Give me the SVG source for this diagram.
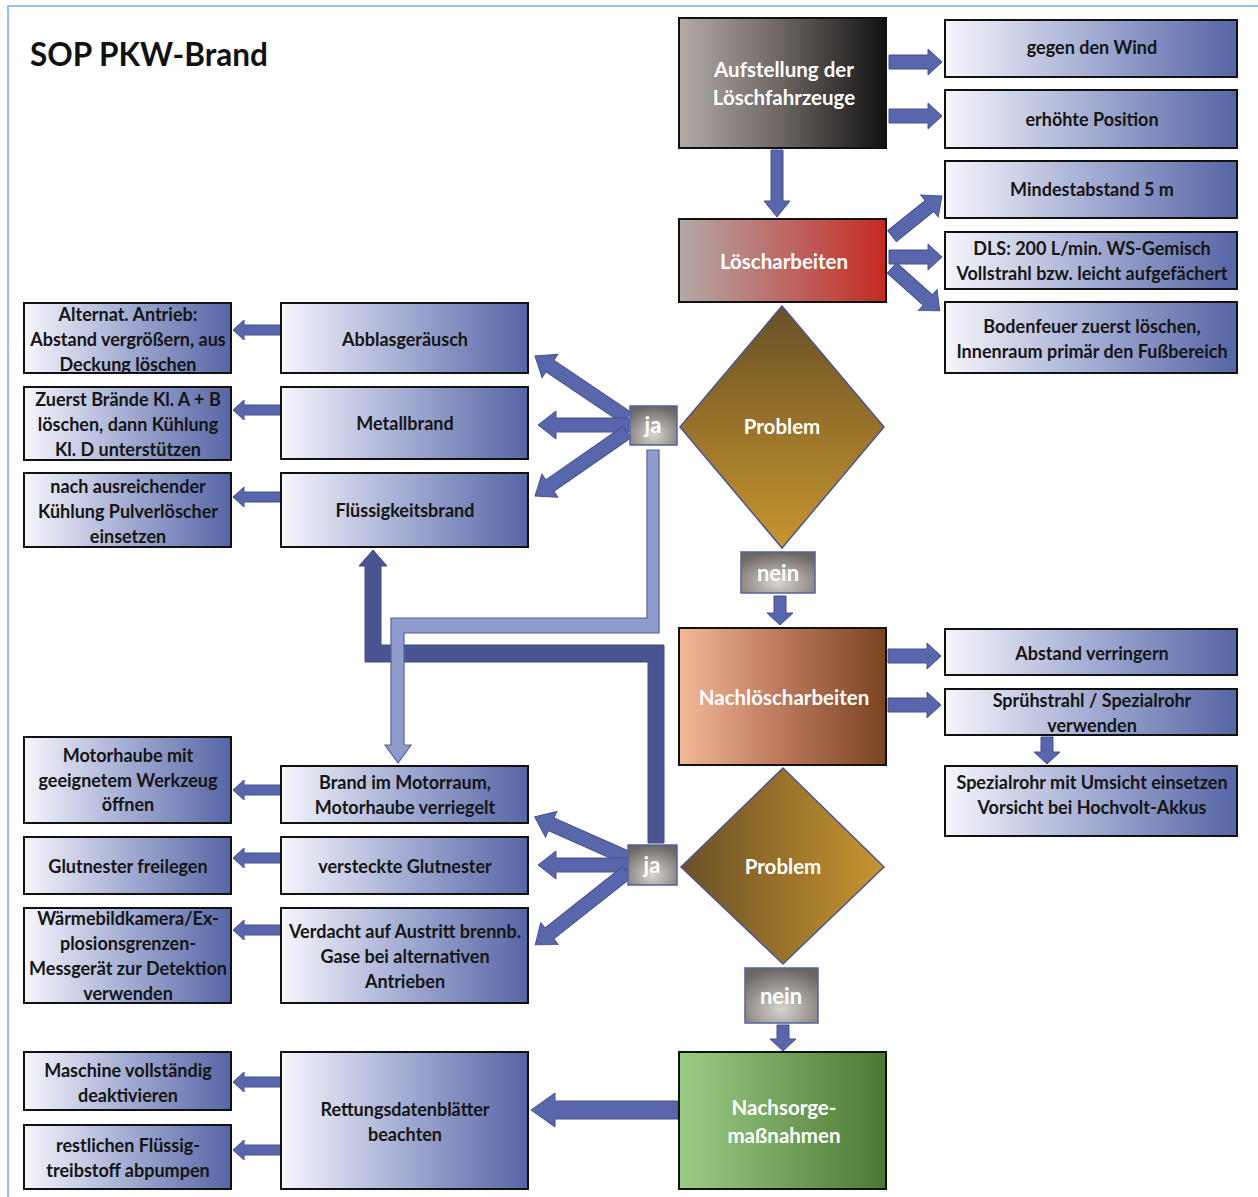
<svg xmlns="http://www.w3.org/2000/svg" xmlns:xlink="http://www.w3.org/1999/xlink" width="1258" height="1197" viewBox="0 0 1258 1197">
<style>
text{font-family:Lato,"Liberation Sans",sans-serif;font-weight:bold;text-anchor:middle}
.t{font-size:18px;fill:#151515}
.w{font-size:20.5px;fill:#ffffff}
.jn{font-size:22px;fill:#ffffff}
.box{fill:url(#gBox);stroke:#111;stroke-width:2}
.main{stroke:#111;stroke-width:2}
.arr{fill:#5867ab;stroke:#46518c;stroke-width:1}
.jabox{fill:url(#gJa);stroke:#5561a0;stroke-width:1.5}
.dia{stroke:#4a5592;stroke-width:1.5}
</style>
<defs>
<linearGradient id="gBox" x1="0" y1="0" x2="1" y2="0"><stop offset="0" stop-color="#f6f6fc"/><stop offset="0.5" stop-color="#a3acd3"/><stop offset="1" stop-color="#5665a5"/></linearGradient>
<linearGradient id="gAuf" x1="0" y1="0" x2="1" y2="0"><stop offset="0" stop-color="#b3aba6"/><stop offset="0.5" stop-color="#6b6461"/><stop offset="1" stop-color="#121111"/></linearGradient>
<linearGradient id="gLosch" x1="0" y1="0" x2="1" y2="0"><stop offset="0" stop-color="#b2a9a8"/><stop offset="0.5" stop-color="#bd6a66"/><stop offset="1" stop-color="#c42a22"/></linearGradient>
<linearGradient id="gNach" x1="0" y1="0" x2="1" y2="0"><stop offset="0" stop-color="#f3b997"/><stop offset="0.5" stop-color="#b9785a"/><stop offset="1" stop-color="#7a4421"/></linearGradient>
<linearGradient id="gSorge" x1="0" y1="0" x2="1" y2="0"><stop offset="0" stop-color="#9ccd86"/><stop offset="1" stop-color="#4c7833"/></linearGradient>
<linearGradient id="gDia1" x1="0" y1="0" x2="0" y2="1"><stop offset="0" stop-color="#6a5027"/><stop offset="1" stop-color="#c8952f"/></linearGradient>
<linearGradient id="gDia2" x1="0" y1="0" x2="1" y2="0"><stop offset="0" stop-color="#6a5027"/><stop offset="1" stop-color="#c8952f"/></linearGradient>
<radialGradient id="gJa" cx="0.5" cy="0.75" r="0.75"><stop offset="0" stop-color="#d8d4d0"/><stop offset="1" stop-color="#6c6662"/></radialGradient>
<polygon id="smallArrow" class="arr" points="0,-5 37,-5 37,-10 48,0 37,10 37,5 0,5"/>
<polygon id="medArrow" class="arr" points="0,-7 39,-7 39,-13 53,0 39,13 39,7 0,7"/>
</defs>

<rect x="0" y="0" width="1258" height="1197" fill="#ffffff"/>
<path d="M8,1197 V6 H1258" fill="none" stroke="#74aae2" stroke-width="1.5"/>
<text x="30" y="66" style="font-size:31.5px;text-anchor:start;fill:#111">SOP PKW-Brand</text>

<g id="connectors">
<use href="#medArrow" transform="translate(889,62)"/>
<use href="#medArrow" transform="translate(889,116)"/>
<polygon class="arr" transform="translate(777,150) rotate(90)" points="0,-6 51,-6 51,-13 67,0 51,13 51,6 0,6"/>
<polygon class="arr" transform="translate(892,236) rotate(-38.66)" points="0,-7 48,-7 48,-14 64,0 48,14 48,7 0,7"/>
<use href="#medArrow" transform="translate(889,257)"/>
<polygon class="arr" transform="translate(892,268) rotate(41.86)" points="0,-7 48,-7 48,-14 64,0 48,14 48,7 0,7"/>
<polygon class="arr" transform="translate(780,596) rotate(90)" points="0,-6 17,-6 17,-13 29,0 17,13 17,6 0,6"/>
<use href="#medArrow" transform="translate(888,656)"/>
<use href="#medArrow" transform="translate(888,705)"/>
<polygon class="arr" transform="translate(1047,737) rotate(90)" points="0,-6 15,-6 15,-13 27,0 15,13 15,6 0,6"/>
<polygon class="arr" transform="translate(783,1025) rotate(90)" points="0,-6 14,-6 14,-13 26,0 14,13 14,6 0,6"/>
<polygon class="arr" transform="translate(678,1110) rotate(180)" points="0,-9 123,-9 123,-17 147,0 123,17 123,9 0,9"/>
<use href="#smallArrow" transform="translate(281,330) rotate(180)"/>
<use href="#smallArrow" transform="translate(281,410) rotate(180)"/>
<use href="#smallArrow" transform="translate(281,497) rotate(180)"/>
<use href="#smallArrow" transform="translate(281,790) rotate(180)"/>
<use href="#smallArrow" transform="translate(281,858) rotate(180)"/>
<use href="#smallArrow" transform="translate(281,930) rotate(180)"/>
<use href="#smallArrow" transform="translate(281,1082) rotate(180)"/>
<use href="#smallArrow" transform="translate(281,1150) rotate(180)"/>
<polygon class="arr" transform="translate(627,418) rotate(-146)" points="0,-7 93,-7 93,-14 111,0 93,14 93,7 0,7"/>
<polygon class="arr" transform="translate(629,425) rotate(180)" points="0,-7 73,-7 73,-14 91,0 73,14 73,7 0,7"/>
<polygon class="arr" transform="translate(627,432) rotate(145.2)" points="0,-7 94,-7 94,-14 112,0 94,14 94,7 0,7"/>
<polygon class="arr" transform="translate(627,858) rotate(-156)" points="0,-7 83,-7 83,-14 101,0 83,14 83,7 0,7"/>
<polygon class="arr" transform="translate(629,865) rotate(180)" points="0,-7 73,-7 73,-14 91,0 73,14 73,7 0,7"/>
<polygon class="arr" transform="translate(627,872) rotate(141.6)" points="0,-7 99,-7 99,-14 117,0 99,14 99,7 0,7"/>
<polygon fill="#4a5491" stroke="#3f4880" stroke-width="1" points="664,645 664,843 648,843 648,662 365,662 365,566 359,566 373,550 387,566 381,566 381,645"/>
<polygon fill="#8f9bcc" stroke="#56619c" stroke-width="1.2" points="647,450 659,450 659,633 404,633 404,745 411,745 398,763 385,745 391,745 391,618 647,618"/>
</g>

<g id="n-aufstellung"><rect class="main" x="679" y="18" width="207" height="130" fill="url(#gAuf)"/><text class="w" x="784" y="77">Aufstellung der</text><text class="w" x="784" y="105">Löschfahrzeuge</text></g>
<g id="n-wind"><rect class="box" x="945" y="20" width="292" height="57"/><text class="t" x="1092" y="54">gegen den Wind</text></g>
<g id="n-position"><rect class="box" x="945" y="90" width="292" height="58"/><text class="t" x="1092" y="126">erhöhte Position</text></g>
<g id="n-loescharbeiten"><rect class="main" x="679" y="219" width="207" height="83" fill="url(#gLosch)"/><text class="w" x="784" y="269">Löscharbeiten</text></g>
<g id="n-mindest"><rect class="box" x="945" y="161" width="292" height="57"/><text class="t" x="1092" y="196">Mindestabstand 5 m</text></g>
<g id="n-dls"><rect class="box" x="945" y="232" width="292" height="57"/><text class="t" x="1092" y="255">DLS: 200 L/min. WS-Gemisch</text><text class="t" x="1092" y="280">Vollstrahl bzw. leicht aufgefächert</text></g>
<g id="n-boden"><rect class="box" x="945" y="302" width="292" height="71"/><text class="t" x="1092" y="333">Bodenfeuer zuerst löschen,</text><text class="t" x="1092" y="358">Innenraum primär den Fußbereich</text></g>

<g id="n-problem1"><polygon class="dia" points="782,306 884,427 782,548 680,427" fill="url(#gDia1)"/><text class="w" x="782" y="434">Problem</text></g>
<g id="n-ja1"><rect class="jabox" x="630" y="406" width="47" height="39"/><text class="jn" x="653" y="433">ja</text></g>
<g id="n-nein1"><rect class="jabox" x="741" y="552" width="74" height="41"/><text class="jn" x="778" y="581">nein</text></g>

<g id="n-abblas"><rect class="box" x="281" y="303" width="247" height="70"/><text class="t" x="405" y="346">Abblasgeräusch</text></g>
<g id="n-metall"><rect class="box" x="281" y="387" width="247" height="72"/><text class="t" x="405" y="430">Metallbrand</text></g>
<g id="n-fluessig"><rect class="box" x="281" y="473" width="247" height="74"/><text class="t" x="405" y="517">Flüssigkeitsbrand</text></g>
<g id="n-alternat"><rect class="box" x="24" y="303" width="207" height="70"/><text class="t" x="128" y="321">Alternat. Antrieb:</text><text class="t" x="128" y="346">Abstand vergrößern, aus</text><text class="t" x="128" y="371">Deckung löschen</text></g>
<g id="n-zuerst"><rect class="box" x="24" y="387" width="207" height="73"/><text class="t" x="128" y="406">Zuerst Brände Kl. A + B</text><text class="t" x="128" y="431">löschen, dann Kühlung</text><text class="t" x="128" y="456">Kl. D unterstützen</text></g>
<g id="n-nach"><rect class="box" x="24" y="473" width="207" height="74"/><text class="t" x="128" y="493">nach ausreichender</text><text class="t" x="128" y="518">Kühlung Pulverlöscher</text><text class="t" x="128" y="543">einsetzen</text></g>

<g id="n-nachloesch"><rect class="main" x="679" y="628" width="207" height="137" fill="url(#gNach)"/><text class="w" x="784" y="705">Nachlöscharbeiten</text></g>
<g id="n-abstand"><rect class="box" x="945" y="629" width="292" height="46"/><text class="t" x="1092" y="660">Abstand verringern</text></g>
<g id="n-spruehstrahl"><rect class="box" x="945" y="689" width="292" height="46"/><text class="t" x="1092" y="707">Sprühstrahl / Spezialrohr</text><text class="t" x="1092" y="732">verwenden</text></g>
<g id="n-spezialrohr"><rect class="box" x="945" y="766" width="292" height="70"/><text class="t" x="1092" y="789">Spezialrohr mit Umsicht einsetzen</text><text class="t" x="1092" y="814">Vorsicht bei Hochvolt-Akkus</text></g>

<g id="n-problem2"><polygon class="dia" points="783,768 884,867 783,964 681,867" fill="url(#gDia2)"/><text class="w" x="783" y="874">Problem</text></g>
<g id="n-ja2"><rect class="jabox" x="628" y="845" width="49" height="40"/><text class="jn" x="652" y="873">ja</text></g>
<g id="n-nein2"><rect class="jabox" x="745" y="968" width="73" height="55"/><text class="jn" x="781" y="1004">nein</text></g>

<g id="n-motorraum"><rect class="box" x="281" y="766" width="247" height="57"/><text class="t" x="405" y="789">Brand im Motorraum,</text><text class="t" x="405" y="814">Motorhaube verriegelt</text></g>
<g id="n-versteckt"><rect class="box" x="281" y="837" width="247" height="57"/><text class="t" x="405" y="873">versteckte Glutnester</text></g>
<g id="n-verdacht"><rect class="box" x="281" y="908" width="247" height="95"/><text class="t" x="405" y="938">Verdacht auf Austritt brennb.</text><text class="t" x="405" y="963">Gase bei alternativen</text><text class="t" x="405" y="988">Antrieben</text></g>
<g id="n-motorhaube"><rect class="box" x="24" y="737" width="207" height="86"/><text class="t" x="128" y="762">Motorhaube mit</text><text class="t" x="128" y="787">geeignetem Werkzeug</text><text class="t" x="128" y="811">öffnen</text></g>
<g id="n-glutnester"><rect class="box" x="24" y="837" width="207" height="57"/><text class="t" x="128" y="873">Glutnester freilegen</text></g>
<g id="n-waermebild"><rect class="box" x="24" y="908" width="207" height="95"/><text class="t" x="128" y="925">Wärmebildkamera/Ex-</text><text class="t" x="128" y="950">plosionsgrenzen-</text><text class="t" x="128" y="975">Messgerät zur Detektion</text><text class="t" x="128" y="1000">verwenden</text></g>

<g id="n-nachsorge"><rect class="main" x="679" y="1052" width="207" height="137" fill="url(#gSorge)"/><text class="w" x="784" y="1115">Nachsorge-</text><text class="w" x="784" y="1143">maßnahmen</text></g>
<g id="n-rettung"><rect class="box" x="281" y="1052" width="247" height="137"/><text class="t" x="405" y="1116">Rettungsdatenblätter</text><text class="t" x="405" y="1141">beachten</text></g>
<g id="n-maschine"><rect class="box" x="24" y="1052" width="207" height="58"/><text class="t" x="128" y="1077">Maschine vollständig</text><text class="t" x="128" y="1102">deaktivieren</text></g>
<g id="n-restlich"><rect class="box" x="24" y="1125" width="207" height="64"/><text class="t" x="128" y="1152">restlichen Flüssig-</text><text class="t" x="128" y="1177">treibstoff abpumpen</text></g>
</svg>
